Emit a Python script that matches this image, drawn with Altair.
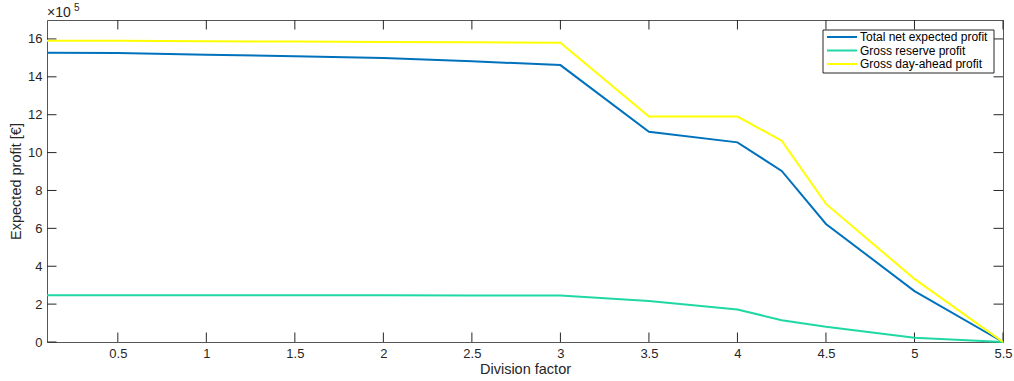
import altair as alt
import pandas as pd

# Division factor (x) and expected profit series, in units of 10^5 €
division_factor = [0.1, 0.5, 1, 1.5, 2, 2.5, 3, 3.5, 4, 4.25, 4.5, 5, 5.5]
total_net = [15.27, 15.26, 15.17, 15.08, 15.0, 14.82, 14.62, 11.1, 10.54, 9.03, 6.23, 2.69, 0.0]
gross_reserve = [2.47, 2.47, 2.47, 2.47, 2.47, 2.46, 2.45, 2.16, 1.72, 1.15, 0.8, 0.22, 0.0]
gross_day_ahead = [15.91, 15.9, 15.88, 15.86, 15.84, 15.82, 15.8, 11.9, 11.9, 10.63, 7.29, 3.33, 0.0]

series_names = ["Total net expected profit", "Gross reserve profit", "Gross day-ahead profit"]
series_colors = ["#0072BD", "#1FD8A4", "#FFFF00"]

x_ticks = [0.5, 1, 1.5, 2, 2.5, 3, 3.5, 4, 4.5, 5, 5.5]
y_ticks = [0, 2, 4, 6, 8, 10, 12, 14, 16]

W, H = 956, 322
TICK = 9.5
FONT = "Liberation Sans"
AX = "#262626"

rows = []
for name, vals in zip(series_names, [total_net, gross_reserve, gross_day_ahead]):
    for xv, yv in zip(division_factor, vals):
        rows.append({"factor": xv, "profit": yv, "series": name})
df = pd.DataFrame(rows)

x_scale = alt.Scale(domain=[0.1, 5.5], nice=False, zero=False)
y_scale = alt.Scale(domain=[0, 17], nice=False)
color_scale = alt.Scale(domain=series_names, range=series_colors)

lines = alt.Chart(df).mark_line(strokeWidth=2).encode(
    x=alt.X("factor:Q", scale=x_scale,
            axis=alt.Axis(title="Division factor", values=x_ticks, ticks=False, domain=False,
                          grid=False, format="~g", labelFontSize=13, titleFontSize=14.5,
                          labelPadding=5, titlePadding=2, labelFont=FONT, titleFont=FONT,
                          labelColor=AX, titleColor=AX, titleFontWeight="normal",
                          labelFlush=False)),
    y=alt.Y("profit:Q", scale=y_scale,
            axis=alt.Axis(title="Expected profit [€]", values=y_ticks, ticks=False, domain=False,
                          grid=False, format="~g", labelFontSize=13, titleFontSize=14.5,
                          labelPadding=5, titlePadding=4, labelFont=FONT, titleFont=FONT,
                          labelColor=AX, titleColor=AX, titleFontWeight="normal",
                          labelFlush=False)),
    color=alt.Color("series:N", sort=series_names, scale=color_scale, legend=None),
    order=alt.Order("factor:Q"),
)

xt = pd.DataFrame({"v": x_ticks})
yt = pd.DataFrame({"v": y_ticks})
tick_style = dict(color=AX, strokeWidth=1)

bottom_ticks = alt.Chart(xt).mark_rule(**tick_style).encode(
    x=alt.X("v:Q", scale=x_scale), y=alt.value(H), y2=alt.value(H - TICK))
top_ticks = alt.Chart(xt).mark_rule(**tick_style).encode(
    x=alt.X("v:Q", scale=x_scale), y=alt.value(0), y2=alt.value(TICK))
left_ticks = alt.Chart(yt).mark_rule(**tick_style).encode(
    y=alt.Y("v:Q", scale=y_scale), x=alt.value(0), x2=alt.value(TICK))
right_ticks = alt.Chart(yt).mark_rule(**tick_style).encode(
    y=alt.Y("v:Q", scale=y_scale), x=alt.value(W), x2=alt.value(W - TICK))

# exponent marker above the y axis
times_ten = alt.Chart(pd.DataFrame({"t": ["×10"]})).mark_text(
    align="left", baseline="alphabetic", fontSize=14, font=FONT, color=AX
).encode(text="t:N", x=alt.value(0), y=alt.value(-3))
exponent = alt.Chart(pd.DataFrame({"t": ["5"]})).mark_text(
    align="left", baseline="alphabetic", fontSize=10, font=FONT, color=AX
).encode(text="t:N", x=alt.value(27), y=alt.value(-9))

# boxed legend in the upper-right corner
LX0, LX1, LY0, LY1 = 776, 947, 10, 53
legend_box = alt.Chart(pd.DataFrame({"k": [0]})).mark_rect(
    fill="#ffffff", stroke=AX, strokeWidth=1
).encode(x=alt.value(LX0), x2=alt.value(LX1), y=alt.value(LY0), y2=alt.value(LY1))

legend_layers = []
for i, (name, col) in enumerate(zip(series_names, series_colors)):
    ry = 17 + 13.5 * i
    entry = pd.DataFrame({"series": [name]})
    legend_layers.append(
        alt.Chart(entry).mark_rule(strokeWidth=2, color=col).encode(
            x=alt.value(LX0 + 4), x2=alt.value(LX0 + 34), y=alt.value(ry)))
    legend_layers.append(
        alt.Chart(entry).mark_text(align="left", baseline="middle", fontSize=12,
                                   font=FONT, color="#000000").encode(
            text="series:N", x=alt.value(LX0 + 37), y=alt.value(ry)))

chart = alt.layer(
    bottom_ticks, top_ticks, left_ticks, right_ticks, lines, times_ten, exponent,
    legend_box, *legend_layers
).properties(
    width=W, height=H,
    autosize=alt.AutoSizeParams(type="none"),
    padding={"left": 47, "top": 20, "right": 11, "bottom": 39},
    background="#ffffff",
).configure_view(
    stroke="#555555", strokeWidth=1
)

chart.save("out.html", embed_options={"renderer": "svg", "actions": False})
